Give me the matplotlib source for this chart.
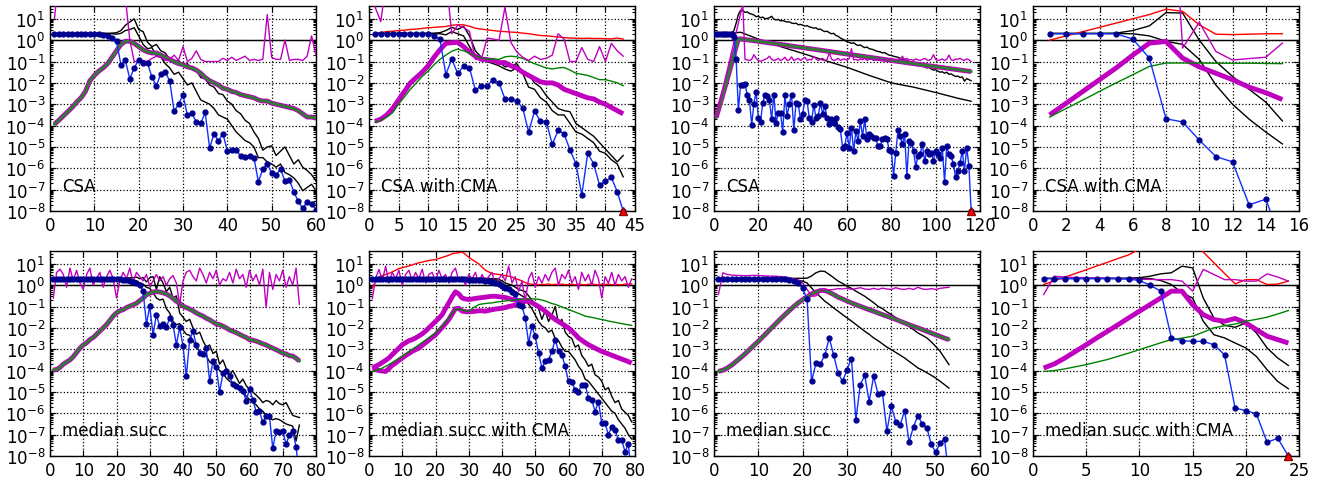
import numpy as np
import matplotlib
matplotlib.use('Agg')
import matplotlib.pyplot as plt
from matplotlib.ticker import LogLocator, NullFormatter

plt.rcParams['font.family'] = ['DejaVu Sans']
plt.rcParams['mathtext.fontset'] = 'dejavusans'

# all values are log10 of the plotted quantity, index i -> iteration i+1

# ---- CSA (left group) ----
a_best = [0.3] * 10 + [0.28, 0.25, 0.2, 0.12, -0.05, -1.15, -0.95, -1.81, -1.3, -0.91,
                       -1.07, -1.07, -1.74, -2.13, -1.57, -1.49, -1.91, -3.34, -2.98, -2.58,
                       -3.52, -3.43, -3.82, -3.9, -3.38, -5.05, -4.38, -4.72, -4.38, -5.19,
                       -5.15, -5.13, -5.42, -5.48, -5.42, -5.5, -6.63, -6.04, -5.81, -6.2,
                       -6.31, -6.04, -6.6, -6.55, -7.1, -7.55, -7.87, -7.58, -7.65, -7.94]
a_hi = [0.32] * 13 + [0.33, 0.35, 0.45, 0.7, 0.85, 1.0, 0.5, 0.4, -0.1, -0.3,
                      -0.2, -0.5, -0.6, -0.9, -1.1, -0.95, -1.2, -1.1, -1.35, -1.4,
                      -1.75, -1.8, -2.1, -2.2, -2.5, -2.55, -2.85, -3.0, -3.3, -3.45,
                      -3.75, -3.9, -4.3, -4.6, -5.15, -5.0, -4.95, -5.4, -5.2, -5.0,
                      -5.4, -5.8, -5.6, -5.95, -6.1, -6.3, -6.6]
a_lo = [0.31] * 13 + [0.3, 0.28, 0.32, 0.45, 0.5, 0.58, 0.2, -0.2, -0.4, -0.35,
                      -0.75, -0.8, -1.1, -1.3, -1.6, -1.5, -1.8, -2.1, -2.0, -2.4,
                      -2.8, -2.9, -3.0, -3.2, -3.5, -3.6, -3.7, -4.0, -4.3, -4.5,
                      -4.7, -4.8, -5.0, -5.5, -5.5, -5.7, -5.8, -5.95, -5.8, -6.2,
                      -6.3, -6.45, -6.7, -7.05, -6.9, -6.75, -7.05]
a_mag = [1.0, 3.0, 4.0, 4.0, 4.0, 4.0, 4.0, 4.0, 4.0, 4.0,
         4.0, 4.0, 4.0, 4.0, 4.0, 3.5, 2.0, 0.0, -1.0, -1.0,
         -0.95, -1.0, -0.85, -0.75, -0.8, -0.95, -0.9, -0.7, -0.95, -0.3,
         -1.0, -0.85, -0.5, -0.9, -1.0, -1.0, -1.0, -1.0, -0.85, -0.95,
         -0.8, -0.95, -0.85, -0.75, -0.95, -0.9, -0.95, -0.9, 1.2, -0.8,
         -0.9, -0.9, 0.0, -0.95, -0.9, -0.9, -0.95, -0.75, 0.2, -0.7]
a_sig = [-3.94, -3.75, -3.55, -3.35, -3.15, -2.9, -2.7, -2.4, -1.9, -1.65,
         -1.45, -1.3, -1.1, -0.8, -0.5, -0.2, -0.05, -0.05, -0.15, -0.3,
         -0.45, -0.55, -0.6, -0.6, -0.7, -0.8, -0.9, -1.0, -1.1, -1.15,
         -1.25, -1.3, -1.4, -1.55, -1.75, -1.9, -2.0, -2.1, -2.25, -2.3,
         -2.4, -2.45, -2.55, -2.6, -2.65, -2.7, -2.8, -2.85, -2.85, -2.95,
         -3.0, -3.05, -3.1, -3.15, -3.2, -3.3, -3.45, -3.6, -3.6, -3.65]

# ---- CSA with CMA (left group) ----
b_best = [0.3] * 10 + [0.2, 0.05, -1.61, -0.88, -1.56, -1.22, -1.3, -2.34, -2.13, -2.13,
                       -1.85, -2.0, -2.75, -2.75, -2.85, -3.17, -4.3, -3.33, -3.79, -3.82,
                       -4.88, -4.23, -4.38, -5.14, -5.78, -7.25, -5.3, -5.78, -6.79, -6.6,
                       -6.43, -7.1, -8.0]
b_hi = [0.32] * 10 + [0.33, 0.35, 0.45, 0.6, 0.5, 0.65, 0.2, -0.5, -0.8, -0.85,
                      -0.95, -1.0, -1.25, -1.2, -1.1, -1.5, -1.6, -2.0, -2.2, -2.6,
                      -2.9, -3.2, -3.3, -3.35, -3.9, -4.1, -4.3, -4.5, -4.8, -5.1,
                      -5.4, -5.7, -5.4]
b_lo = [0.31] * 10 + [0.3, 0.3, 0.25, 0.4, 0.3, 0.2, -0.3, -0.8, -0.9, -1.0,
                      -1.1, -1.2, -1.35, -1.45, -1.3, -1.55, -2.2, -2.3, -2.7, -2.9,
                      -3.3, -3.5, -3.5, -3.9, -4.3, -4.4, -4.6, -4.8, -5.2, -5.3,
                      -5.6, -5.8, -6.4]
b_red = [0.33, 0.36, 0.4, 0.42, 0.45, 0.47, 0.5, 0.52, 0.55, 0.58,
         0.6, 0.62, 0.64, 0.7, 0.72, 0.72, 0.65, 0.56, 0.52, 0.48,
         0.45, 0.42, 0.4, 0.38, 0.36, 0.33, 0.3, 0.26, 0.22, 0.2,
         0.18, 0.15, 0.12, 0.1, 0.09, 0.08, 0.09, 0.08, 0.08, 0.07,
         0.06, 0.1, 0.05]
b_mag = [1.57, 0.87, 3.0, 3.0, 3.0, 3.0, 3.0, 3.0, 3.0, 3.0,
         3.0, 3.0, 3.0, 0.3, 0.7, 0.6, 0.4, -0.9, -0.9, 0.1,
         0.05, 0.0, 1.55, -0.1, -0.55, -0.8, -0.95, -0.75, -0.9, -0.85,
         -0.7, 0.3, 0.05, -1.0, -1.0, -0.35, -0.9, -1.0, -0.3, -1.0,
         -0.15, -0.5, -0.75]
b_sig = [-3.8, -3.7, -3.5, -3.2, -2.8, -2.4, -2.0, -1.75, -1.5, -1.2,
         -0.8, -0.45, -0.15, -0.12, -0.1, -0.3, -0.55, -0.75, -0.9, -0.92,
         -0.95, -1.05, -1.05, -1.2, -1.3, -1.5, -1.65, -1.8, -1.95, -2.0,
         -2.0, -2.1, -2.3, -2.4, -2.5, -2.6, -2.7, -2.75, -2.9, -3.0,
         -3.15, -3.3, -3.45]
b_grn = [-3.85, -3.75, -3.6, -3.4, -3.0, -2.65, -2.3, -2.0, -1.7, -1.45,
         -1.15, -0.9, -0.7, -0.52, -0.42, -0.5, -0.6, -0.75, -0.82, -0.9,
         -0.88, -0.9, -0.78, -0.75, -0.78, -0.85, -0.98, -1.1, -1.2, -1.3,
         -1.35, -1.3, -1.28, -1.4, -1.55, -1.6, -1.65, -1.75, -1.85, -1.85,
         -1.92, -2.0, -2.13]

# ---- CSA (right group) ----
c_best = [0.3, 0.3, 0.3, 0.3, 0.3, 0.3, 0.3, 0.27, 0.15, -0.9,
          -3.29, -2.08, -2.1, -2.04, -2.58, -2.82, -3.97, -2.97, -2.42, -3.63,
          -3.82, -2.94, -2.55, -2.63, -2.79, -3.71, -2.55, -3.87, -3.4, -3.4,
          -4.29, -2.58, -3.55, -2.97, -2.55, -4.22, -2.94, -2.97, -3.71, -3.44,
          -2.79, -2.86, -3.66, -3.82, -3.02, -3.63, -3.55, -2.94, -3.44, -3.1,
          -3.63, -3.94, -3.71, -3.87, -3.63, -4.06, -4.17, -5.03, -4.96, -4.34,
          -5.03, -4.1, -5.19, -4.25, -4.72, -3.79, -4.49, -3.71, -4.65, -4.41,
          -4.49, -4.57, -4.6, -4.96, -4.96, -4.65, -4.57, -4.65, -5.12, -5.19,
          -6.35, -5.27, -4.22, -4.49, -4.88, -4.41, -6.35, -4.72, -4.8, -5.19,
          -5.92, -5.42, -5.34, -4.88, -5.65, -5.19, -5.34, -5.27, -5.65, -5.19,
          -5.34, -5.5, -5.03, -6.66, -4.96, -5.34, -5.42, -5.81, -6.43, -6.12,
          -5.73, -5.19, -6.12, -5.03, -5.89, -8.0]
c_hi = [0.32, 0.32, 0.32, 0.32, 0.32, 0.32, 0.32, 0.32, 0.45, 0.8,
        1.2, 1.4, 1.38, 1.3, 1.32, 1.25, 1.22, 1.18, 1.1, 1.12,
        1.05, 1.08, 1.0, 1.02, 1.05, 1.12, 0.98, 0.95, 0.97, 0.9,
        0.92, 0.88, 0.85, 0.86, 0.8, 0.78, 0.8, 0.72, 0.74, 0.7,
        0.66, 0.68, 0.62, 0.6, 0.56, 0.58, 0.5, 0.52, 0.45, 0.4,
        0.42, 0.35, 0.3, 0.32, 0.22, 0.18, 0.1, 0.05, 0.0, -0.08,
        -0.1, -0.15, -0.12, -0.2, -0.25, -0.22, -0.3, -0.35, -0.32, -0.4,
        -0.42, -0.45, -0.5, -0.53, -0.55, -0.6, -0.58, -0.65, -0.7, -0.72,
        -0.75, -0.78, -0.8, -0.85, -0.9, -0.88, -0.95, -1.0, -1.05, -1.02,
        -1.1, -1.15, -1.2, -1.18, -1.25, -1.3, -1.28, -1.35, -1.4, -1.38,
        -1.45, -1.5, -1.48, -1.55, -1.5, -1.6, -1.58, -1.65, -1.7, -1.68,
        -1.75, -1.72, -1.92, -1.8, -1.85, -1.9]
c_lo_x = [1, 8, 10, 12, 20, 30, 40, 50, 60, 70, 80, 90, 100, 110, 116]
c_lo = [0.3, 0.3, 0.35, 0.37, 0.05, -0.3, -0.62, -0.95, -1.27, -1.65, -2.0, -2.2, -2.45, -2.72, -2.86]
c_mag = [-3.6, -3.16, -2.72, -2.28, -1.84, -1.4, -0.96, -0.52, -0.08, 0.36,
         0.8, 1.24, 1.68, -0.9, -0.92, -0.95, -0.9, -0.68, -0.85, -0.95,
         -0.98, -0.95, -0.9, -0.85, -0.75, -0.9, -0.95, -0.92, -0.85, -0.95,
         -0.9, -0.8, -0.95, -0.92, -0.78, -0.95, -0.9, -0.85, -0.95, -0.88,
         -0.8, -0.95, -0.9, -0.92, -0.75, -0.88, -0.95, -0.9, -0.85, -0.95,
         -0.9, -0.6, -0.88, -0.95, -0.92, -0.85, -0.95, -0.9, -0.88, -0.95,
         -0.85, -0.4, -0.92, -0.9, -0.95, -0.88, -0.92, -0.85, -0.95, -0.9,
         -0.88, -0.95, -0.92, -0.85, -0.9, -0.95, -0.88, -0.92, -0.95, -0.85,
         -0.9, -0.95, -0.88, -0.92, -0.75, -0.95, -0.85, -0.92, -0.9, -0.95,
         -0.88, -0.92, -0.95, -0.9, -0.85, -0.92, -0.95, -0.88, -0.68, -0.9,
         -0.95, -0.92, -0.88, -0.95, -0.9, -0.7, -0.92, -0.95, -0.88, -0.9,
         -0.85, -0.92, -0.95, -0.88, -0.92, -0.99]
c_sig_x = [1, 4, 7, 10, 11, 12, 30, 50, 70, 90, 116]
c_sig = [-3.62, -2.55, -1.45, -0.3, 0.05, 0.06, -0.2, -0.5, -0.8, -1.1, -1.47]

# ---- CSA with CMA (right group) ----
d_best = [0.3, 0.3, 0.3, 0.3, 0.3, 0.05, -0.84, -3.68, -3.83, -4.68, -5.45, -5.7, -7.71, -7.45, -9.5]
d_hi = [0.32, 0.32, 0.32, 0.32, 0.33, 0.45, 0.67, 1.29, 1.27, 0.0, -1.0, -1.7, -2.3, -2.9, -3.78]
d_lo = [0.31, 0.31, 0.31, 0.31, 0.31, 0.3, 0.2, -0.05, -0.2, -0.9, -2.1, -3.0, -3.7, -4.3, -4.86]
d_mag = [6.0, 6.0, 6.0, 6.0, 6.0, 6.0, 6.0, 12.0, -0.37, 0.84, -0.53, -0.93, -0.86, -0.8, -0.14]
d_red = [0.0, 0.2, 0.4, 0.6, 0.8, 1.0, 1.2, 1.45, 1.35, 0.72, 0.28, 0.26, 0.28, 0.3, 0.3]
d_sig = [-3.5, -2.95, -2.4, -1.85, -1.3, -0.7, -0.14, -0.06, -0.84, -1.25, -1.55, -1.85, -2.2, -2.46, -2.78]
d_grn = [-3.6, -3.2, -2.8, -2.4, -2.0, -1.62, -1.23, -1.07, -1.07, -1.07, -1.08, -1.08, -1.08, -1.09, -1.1]

# ---- median succ (left group) ----
e_best = [0.3] * 20 + [0.28, 0.25, 0.22, 0.2, 0.15, 0.1, 0.0, -0.28, -1.82, -0.99,
                       -2.32, -1.38, -1.93, -1.82, -1.97, -1.53, -1.85, -2.79, -1.97, -2.87,
                       -4.27, -2.55, -2.16, -2.79, -3.18, -3.23, -2.94, -4.51, -3.54, -3.85,
                       -5.01, -4.12, -4.04, -4.27, -4.63, -4.74, -4.82, -4.95, -5.42, -4.85,
                       -5.37, -5.92, -5.89, -6.43, -6.15, -6.15, -7.64, -6.83, -6.86, -6.83,
                       -7.45, -7.01, -6.83, -7.56, -9.0]
e_hi = [0.32] * 20 + [0.32, 0.32, 0.33, 0.35, 0.35, 0.38, 0.3, 0.35, 0.15, 0.35,
                      0.4, -0.2, 0.4, 0.1, -0.3, -0.1, -0.6, -0.5, -1.3, -1.5,
                      -1.7, -1.6, -2.0, -2.3, -2.2, -2.6, -2.9, -2.8, -3.2, -3.1,
                      -3.7, -3.5, -3.9, -4.2, -4.0, -4.3, -4.6, -4.4, -4.7, -4.9,
                      -5.0, -5.15, -5.3, -5.5, -5.4, -5.45, -5.6, -5.4, -5.55, -5.6,
                      -5.5, -5.8, -6.1, -6.15, -6.2]
e_lo = [0.31] * 20 + [0.31, 0.31, 0.3, 0.28, 0.25, 0.2, 0.1, 0.05, -0.1, -0.15,
                      -0.35, -0.6, -0.7, -0.65, -1.1, -1.3, -1.7, -1.85, -1.8, -2.1,
                      -2.3, -2.35, -2.6, -2.9, -3.1, -3.2, -3.3, -3.6, -3.7, -3.8,
                      -4.0, -4.1, -4.35, -4.5, -4.6, -4.75, -4.9, -5.0, -5.2, -5.35,
                      -5.5, -5.6, -5.8, -5.9, -6.1, -6.25, -6.3, -6.25, -6.3, -6.4,
                      -6.5, -6.55, -6.6, -7.3, -6.55]
e_mag = [-0.6, 0.6, 0.75, 0.5, -0.1, 0.8, 0.2, 0.7, 0.1, -0.2,
         0.5, 0.8, 0.0, 0.3, 0.6, -0.1, 0.4, 0.7, 0.3, -0.6,
         0.2, 0.6, 0.3, 0.8, 0.1, 0.6, 0.4, 0.2, 0.5, -0.05,
         0.2, 0.5, 0.2, 0.4, 0.0, 0.3, 0.45, 0.1, -0.9, 0.2,
         0.6, 0.7, 0.4, 0.2, 0.8, 0.5, 0.1, 0.6, 0.3, 0.7,
         0.0, 0.3, 0.2, 0.6, 0.1, 0.75, 0.3, 0.5, -0.1, 0.7,
         0.2, 0.5, 0.0, 0.75, -1.05, 0.6, -0.2, 0.5, 0.2, 0.7,
         -0.1, 0.4, 0.0, 0.8, -0.9]
e_sig = [-3.97, -3.95, -3.85, -3.7, -3.6, -3.5, -3.35, -3.15, -2.95, -2.8,
         -2.7, -2.55, -2.45, -2.3, -2.15, -2.0, -1.85, -1.65, -1.45, -1.3,
         -1.2, -1.15, -1.05, -0.98, -0.92, -0.85, -0.72, -0.6, -0.45, -0.38,
         -0.32, -0.3, -0.32, -0.36, -0.42, -0.5, -0.62, -0.75, -0.85, -0.98,
         -1.05, -1.12, -1.2, -1.3, -1.38, -1.45, -1.55, -1.62, -1.72, -1.82,
         -1.85, -1.92, -2.0, -2.1, -2.16, -2.22, -2.3, -2.38, -2.45, -2.55,
         -2.58, -2.62, -2.68, -2.75, -2.8, -2.88, -2.95, -3.02, -3.1, -3.18,
         -3.22, -3.3, -3.32, -3.42, -3.55]

# ---- median succ with CMA (left group) ----
f_best = [0.3] * 26 + [0.29, 0.28, 0.27, 0.26,
                       0.25, 0.24, 0.23, 0.22, 0.2, 0.18, 0.15, 0.12, 0.05, -0.05,
                       -0.15, -0.2, -0.3, -0.4, -0.91, -0.98, -1.53, -2.71, -1.93, -2.4,
                       -3.18, -3.88, -3.57, -3.49, -3.1, -2.55, -3.1, -3.26, -3.8, -4.51,
                       -4.55, -4.9, -4.98, -4.66, -4.66, -5.29, -5.37, -5.92, -5.45, -6.46,
                       -6.46, -7.01, -6.62, -6.78, -7.25, -7.25, -7.8, -7.45, -9.0]
f_hi = [0.32] * 36 + [0.3, 0.3, 0.28, 0.2,
                      0.1, 0.05, 0.0, -0.1, -0.2, -0.25, -0.3, -0.5, -0.7, -0.9,
                      -1.1, -1.6, -1.2, -1.7, -1.4, -1.0, -1.8, -1.6, -2.2, -2.4,
                      -2.5, -2.9, -2.8, -3.3, -3.5, -3.8, -3.7, -4.2, -4.3, -4.5,
                      -4.9, -4.8, -5.2, -5.5, -5.4, -5.8, -5.95, -6.1, -6.4]
f_lo = [0.31] * 34 + [0.3, 0.3, 0.28, 0.25, 0.2, 0.1,
                      0.0, -0.1, -0.2, -0.3, -0.4, -0.5, -0.6, -0.9, -1.1, -1.4,
                      -1.7, -1.9, -2.0, -2.2, -2.1, -2.5, -2.6, -2.9, -3.1, -3.1,
                      -3.3, -3.5, -3.8, -4.0, -4.4, -4.5, -4.7, -4.9, -5.1, -5.3,
                      -5.5, -5.7, -5.9, -6.0, -6.3, -6.5, -6.7, -7.0, -7.2]
f_red = [-0.13, 0.2, 0.37, 0.45, 0.5, 0.55, 0.62, 0.7, 0.78, 0.82,
         0.86, 0.9, 0.95, 1.0, 1.05, 1.08, 1.12, 1.15, 1.18, 1.2,
         1.25, 1.3, 1.35, 1.4, 1.47, 1.5, 1.52, 1.55, 1.45, 1.3,
         1.2, 1.1, 1.0, 0.85, 0.7, 0.62, 0.55, 0.52, 0.5, 0.48,
         0.45, 0.42, 0.38, 0.3, 0.26, 0.2, 0.12, 0.06, 0.04, 0.05,
         0.02, 0.04, 0.03, 0.06, 0.02, 0.04, 0.03, 0.05, 0.02, 0.03,
         0.04, 0.02, 0.05, 0.03, 0.02, 0.04, 0.06, 0.03, 0.02, 0.04,
         0.03, 0.05, 0.02, 0.04, 0.03, 0.02, 0.05, 0.04, 0.06]
f_mag = [-0.63, 0.34, 0.74, 0.2, 0.89, 0.1, 0.6, 0.3, 0.7, 0.0,
         0.5, 0.7, 0.2, 0.6, 0.3, 0.75, 0.1, 0.5, 0.6, 0.2,
         0.7, 0.3, 0.5, 0.1, 0.6, 0.8, 0.2, 0.4, 0.0, 0.5,
         0.3, 0.6, 0.1, 0.5, 0.2, 0.4, 0.6, 0.0, 0.3, 0.5,
         0.2, 0.89, 0.1, 0.4, -0.3, 0.2, -0.75, 0.3, 0.6, -0.1,
         0.4, 0.1, 0.5, 0.2, 0.6, 0.8, 0.0, 0.5, 0.3, 0.7,
         0.1, 0.4, -0.2, 0.6, 0.2, 0.5, 0.0, 0.7, 0.3, -0.6,
         0.4, 0.1, 0.6, 0.0, 0.5, 0.2, 0.4, -0.1, 0.3]
f_sig = [-3.88, -3.8, -3.72, -3.62, -3.52, -3.41, -3.25, -3.1, -2.95, -2.79,
         -2.7, -2.6, -2.55, -2.47, -2.38, -2.28, -2.15, -2.0, -1.85, -1.7,
         -1.55, -1.38, -1.1, -0.83, -0.55, -0.31, -0.41, -0.6, -0.65, -0.67,
         -0.65, -0.62, -0.6, -0.58, -0.56, -0.54, -0.52, -0.52, -0.54, -0.56,
         -0.58, -0.62, -0.67, -0.69, -0.71, -0.73, -0.74, -0.75, -0.82, -0.91,
         -1.0, -1.1, -1.22, -1.35, -1.48, -1.61, -1.7, -1.8, -1.9, -2.0,
         -2.15, -2.3, -2.47, -2.58, -2.69, -2.79, -2.87, -2.95, -3.03, -3.1,
         -3.16, -3.22, -3.28, -3.34, -3.4, -3.46, -3.52, -3.58, -3.65]
f_sig2 = [-3.95, -3.95, -4.0, -4.02, -4.04, -3.9, -3.75, -3.65, -3.52, -3.41,
          -3.3, -3.2, -3.1, -3.02, -2.95, -2.82, -2.7, -2.57, -2.45, -2.32,
          -2.15, -1.98, -1.8, -1.61, -1.35, -1.1, -1.08, -1.22, -1.24, -1.25,
          -1.24, -1.22, -1.2, -1.2, -1.22, -1.18, -1.15, -1.12, -1.1, -1.07,
          -1.05, -1.0, -0.97, -0.92, -0.88, -0.82, -0.75, -0.72, -0.72]
f_grn = [-4.04, -4.0, -3.95, -3.88, -3.8, -3.72, -3.62, -3.52, -3.43, -3.34,
         -3.23, -3.12, -3.0, -2.9, -2.79, -2.68, -2.57, -2.46, -2.35, -2.24,
         -2.08, -1.9, -1.72, -1.53, -1.3, -1.14, -1.12, -1.16, -1.2, -1.22,
         -1.1, -1.0, -0.91, -0.88, -0.86, -0.84, -0.83, -0.8, -0.78, -0.76,
         -0.74, -0.72, -0.7, -0.69, -0.68, -0.66, -0.65, -0.64, -0.64, -0.65,
         -0.66, -0.7, -0.74, -0.8, -0.86, -0.9, -0.96, -1.02, -1.08, -1.14,
         -1.2, -1.26, -1.32, -1.38, -1.45, -1.48, -1.51, -1.54, -1.58, -1.61,
         -1.64, -1.68, -1.71, -1.74, -1.77, -1.8, -1.83, -1.86, -1.88]

# ---- median succ (right group) ----
g_best = [0.3] * 14 + [0.29, 0.27, 0.25, 0.2, 0.1, -0.15,
                       -0.67, -4.51, -3.65, -3.7, -3.26, -2.47, -3.29, -4.12, -4.51, -3.96,
                       -3.44, -6.31, -4.66, -4.23, -5.45, -4.27, -5.09, -5.06, -6.83, -5.68,
                       -6.39, -6.54, -5.87, -7.36, -6.62, -6.11, -6.5, -6.67, -7.45, -7.83,
                       -7.4, -7.2, -9.0]
g_hi = [0.32] * 20 + [0.33, 0.43, 0.58, 0.66, 0.64, 0.5, 0.35, 0.19, 0.08, -0.05,
                      -0.15, -0.28, -0.4, -0.52, -0.67, -0.82, -0.99, -1.1, -1.25, -1.38,
                      -1.52, -1.69, -1.8, -1.93, -2.08, -2.24, -2.35, -2.47, -2.65, -2.87,
                      -3.1, -3.41, -3.72]
g_lo = [0.31] * 15 + [0.3, 0.29, 0.26, 0.22, 0.19,
                      0.1, -0.13, -0.36, -0.55, -0.75, -0.9, -1.07, -1.22, -1.38, -1.53,
                      -1.68, -1.84, -2.0, -2.16, -2.3, -2.47, -2.6, -2.75, -2.9, -3.02,
                      -3.15, -3.28, -3.41, -3.57, -3.72, -3.88, -3.98, -4.1, -4.22, -4.35,
                      -4.5, -4.66, -4.82]
g_mag = [-0.44, 0.58, 0.5, 0.47, 0.46, 0.45, 0.44, 0.45, 0.46, 0.45,
         0.44, 0.43, 0.42, 0.42, 0.4, 0.38, 0.35, 0.3, 0.25, 0.1,
         -0.2, -0.52, -0.5, -0.28, -0.2, -0.22, -0.2, -0.16, -0.18, -0.14,
         -0.2, -0.16, -0.12, -0.18, -0.2, -0.15, -0.2, -0.14, -0.18, -0.2,
         -0.12, -0.18, -0.2, -0.15, -0.2, -0.1, -0.18, -0.2, -0.16, -0.2,
         -0.15, -0.12, -0.1]
g_sig = [-4.04, -3.98, -3.88, -3.74, -3.57, -3.4, -3.22, -3.02, -2.82, -2.63,
         -2.42, -2.21, -2.0, -1.79, -1.58, -1.38, -1.19, -1.0, -0.83, -0.68,
         -0.55, -0.41, -0.32, -0.25, -0.25, -0.33, -0.44, -0.56, -0.65, -0.74,
         -0.83, -0.91, -0.99, -1.07, -1.15, -1.22, -1.3, -1.38, -1.45, -1.53,
         -1.6, -1.69, -1.77, -1.85, -1.93, -2.0, -2.08, -2.16, -2.24, -2.32,
         -2.4, -2.48, -2.55]

# ---- median succ with CMA (right group) ----
h_best = [0.31, 0.31, 0.31, 0.31, 0.31, 0.31, 0.31, 0.3, 0.28, 0.22, 0.0, -0.28,
          -2.47, -2.6, -2.63, -2.63, -2.79, -3.26, -5.76, -5.87, -6.03, -7.36, -7.17, -8.0]
h_hi = [0.32, 0.32, 0.32, 0.32, 0.32, 0.32, 0.32, 0.32, 0.33, 0.35, 0.42, 0.53,
        0.58, 0.89, 0.81, -0.6, -1.53, -1.88, -1.97, -1.77, -2.24, -2.94, -3.41, -3.76]
h_lo = [0.31, 0.31, 0.31, 0.31, 0.31, 0.31, 0.31, 0.31, 0.31, 0.31, 0.31, 0.22,
        0.03, -0.36, -0.6, -1.69, -2.32, -2.47, -2.71, -2.94, -3.34, -3.96, -4.51, -4.85]
h_red = [0.03, 0.2, 0.38, 0.55, 0.72, 0.9, 1.07, 1.25, 1.42, 1.7, 1.9, 2.1,
         2.3, 2.4, 2.0, 1.55, 1.05, 0.55, 0.06, 0.26, 0.26, 0.03, 0.05, 0.19]
h_mag = [-0.44, 0.42, 0.38, 0.36, 0.35, 0.34, 0.33, 0.32, 0.3, 0.28, 0.27, 0.26,
         0.26, 0.19, -0.28, 0.74, 0.5, 0.26, 0.26, 0.19, 0.19, 0.53, 0.38, 0.19]
h_sig = [-3.88, -3.69, -3.41, -3.1, -2.79, -2.47, -2.16, -1.85, -1.53, -1.22, -0.91, -0.6,
         -0.28, -0.28, -0.91, -1.38, -1.61, -1.69, -1.56, -1.77, -2.08, -2.39, -2.55, -2.71]
h_grn = [-4.04, -4.0, -3.92, -3.82, -3.72, -3.6, -3.48, -3.33, -3.18, -3.02, -2.86, -2.7,
         -2.55, -2.48, -2.39, -2.2, -2.0, -1.9, -1.82, -1.69, -1.6, -1.5, -1.35, -1.19]

labels = ['CSA', 'CSA with CMA', 'CSA', 'CSA with CMA',
          'median succ', 'median succ with CMA', 'median succ', 'median succ with CMA']
xmax = [60, 45, 120, 16, 80, 80, 60, 25]
xstep = [10, 5, 20, 2, 10, 10, 10, 5]


def lg(v):
    return 10.0 ** np.asarray(v, dtype=float)


def xs(v):
    return np.arange(1, len(v) + 1)


W, H = 1325.0, 485.0
lefts = [50, 369, 714, 1033]
rows = [(7, 212), (252, 457)]

fig = plt.figure(figsize=(13.25, 4.85), dpi=100)


def panel(k, best, hi, lo, mag, sig, grn=None, red=None, sig2=None,
          sig_x=None, lo_x=None, end_mark=False, thick_grn=False):
    row, col = divmod(k, 4)
    top, bot = rows[row]
    ax = fig.add_axes([lefts[col] / W, 1 - bot / H, 266 / W, (bot - top) / H])
    ax.set_yscale('log')

    ax.axhline(1.0, color='k', lw=1.0, zorder=2)
    ax.plot(xs(hi), lg(hi), color='k', lw=1.0, zorder=3)
    ax.plot(lo_x if lo_x is not None else xs(lo), lg(lo), color='k', lw=1.0, zorder=3)
    if red is not None:
        ax.plot(xs(red), lg(red), color='r', lw=1.0, zorder=3)
    sx = sig_x if sig_x is not None else xs(sig)
    ax.plot(sx, lg(sig), color='m', lw=3.5, zorder=4, solid_capstyle='butt')
    if sig2 is not None:
        ax.plot(xs(sig2), lg(sig2), color='m', lw=3.5, zorder=4, solid_capstyle='butt')
    if thick_grn:
        ax.plot(sx, lg(sig), color='#2e7d32', lw=2.0, zorder=5)
    else:
        ax.plot(xs(grn), lg(grn), color='g', lw=1.0, zorder=5)
    ax.plot(xs(mag), lg(mag), color='m', lw=1.0, zorder=5)
    ax.plot(xs(best), lg(best), color='#1030ff', lw=1.0, marker='o', ms=3.5,
            mfc='#000090', mec='#000090', zorder=6)
    if end_mark:
        ax.plot([len(best)], [1e-8], marker='^', color='r', mec='#900000', ms=6,
                clip_on=False, zorder=7)

    ax.set_xlim(0, xmax[k])
    ax.set_ylim(1e-8, 10 ** 1.6)
    ax.set_xticks(np.arange(0, xmax[k] + 0.1, xstep[k]))
    ax.yaxis.set_major_locator(LogLocator(base=10, numticks=20))
    ax.yaxis.set_minor_locator(LogLocator(base=10, subs=np.arange(2, 10), numticks=20))
    ax.yaxis.set_minor_formatter(NullFormatter())
    ax.tick_params(which='both', direction='in', top=True, right=True, labelsize=12, width=0.8)
    ax.tick_params(which='major', length=4.5)
    ax.tick_params(which='minor', length=2.5)
    ax.grid(True, which='major', linestyle=':', color='k', linewidth=0.9)
    for s in ax.spines.values():
        s.set_linewidth(1.0)
    ax.text(0.045, 0.1, labels[k], transform=ax.transAxes, fontsize=12, va='baseline', ha='left')
    return ax


panel(0, a_best, a_hi, a_lo, a_mag, a_sig, thick_grn=True)
panel(1, b_best, b_hi, b_lo, b_mag, b_sig, grn=b_grn, red=b_red, end_mark=True)
panel(2, c_best, c_hi, c_lo, c_mag, c_sig, sig_x=c_sig_x, lo_x=c_lo_x, thick_grn=True, end_mark=True)
panel(3, d_best, d_hi, d_lo, d_mag, d_sig, grn=d_grn, red=d_red)
panel(4, e_best, e_hi, e_lo, e_mag, e_sig, thick_grn=True)
panel(5, f_best, f_hi, f_lo, f_mag, f_sig, grn=f_grn, red=f_red, sig2=f_sig2)
panel(6, g_best, g_hi, g_lo, g_mag, g_sig, thick_grn=True)
panel(7, h_best, h_hi, h_lo, h_mag, h_sig, grn=h_grn, red=h_red, end_mark=True)

fig.savefig('out.png', dpi=100)
